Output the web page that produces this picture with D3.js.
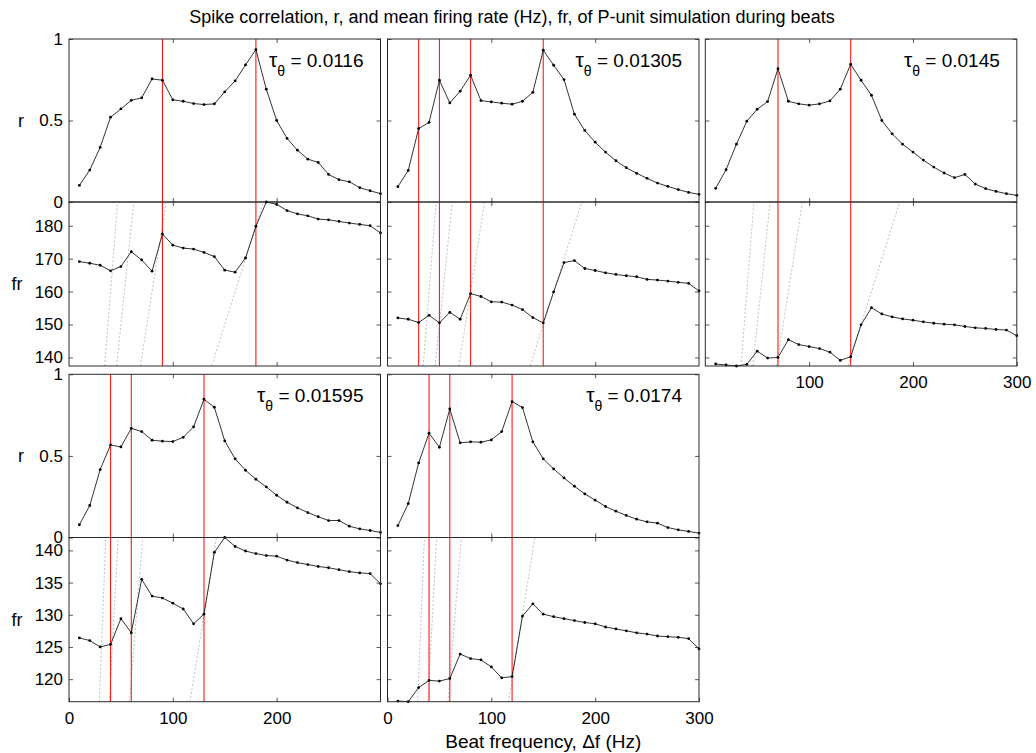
<!DOCTYPE html>
<html><head><meta charset="utf-8">
<script src="https://cdn.jsdelivr.net/npm/d3@7"></script>
<style>
body{margin:0;background:#fff}
text{font-family:"Liberation Sans",Arial,Helvetica,sans-serif}
</style>
</head><body>
<svg id="c" width="1036" height="753"></svg>
<script>
// ---------- data ----------
const freqs = [10,20,30,40,50,60,70,80,90,100,110,120,130,140,150,160,170,180,190,200,210,220,230,240,250,260,270,280,290,300];

const tauLabels = ["0.0116","0.01305","0.0145","0.01595","0.0174"];

const r_0116 = [0.102,0.196,0.335,0.520,0.571,0.624,0.639,0.755,0.747,0.627,0.618,0.604,0.598,0.602,0.676,0.743,0.841,0.935,0.692,0.500,0.390,0.318,0.263,0.243,0.169,0.137,0.124,0.088,0.069,0.051];
const fr_0116 = [169.1,168.6,168.0,166.3,167.6,172.1,169.6,166.2,177.5,174.1,173.2,172.9,171.9,170.6,166.5,165.9,170.2,179.8,187.2,186.5,184.6,183.6,183.0,182.0,181.8,181.3,180.8,180.4,180.0,177.8];
const red_0116 = [90,180];

const r_01305 = [0.094,0.194,0.451,0.488,0.747,0.608,0.680,0.778,0.622,0.614,0.606,0.600,0.618,0.673,0.931,0.839,0.751,0.539,0.439,0.367,0.306,0.253,0.210,0.176,0.145,0.116,0.096,0.076,0.059,0.047];
const fr_01305 = [152.0,151.6,150.6,152.8,150.5,153.7,151.6,159.4,158.5,156.9,156.8,155.9,154.5,152.1,150.5,159.9,168.8,169.4,167.0,166.4,165.7,165.2,164.8,164.5,163.7,163.5,163.2,162.8,162.5,160.2];
const red_01305 = [30,50,80,150];

const r_0145 = [0.084,0.198,0.355,0.496,0.569,0.616,0.818,0.618,0.602,0.594,0.602,0.620,0.692,0.845,0.747,0.655,0.500,0.418,0.355,0.306,0.257,0.214,0.178,0.149,0.169,0.110,0.082,0.065,0.051,0.041];
const fr_0145 = [138.0,137.7,137.4,137.9,141.9,139.8,140.0,145.4,143.9,143.3,142.7,141.6,139.1,140.2,149.9,155.1,153.2,152.3,151.7,151.3,150.8,150.4,150.1,149.9,149.4,149.0,148.8,148.5,148.3,146.6];
const red_0145 = [70,140];

const r_01595 = [0.078,0.196,0.416,0.567,0.555,0.669,0.649,0.596,0.590,0.588,0.614,0.678,0.847,0.798,0.592,0.482,0.412,0.357,0.310,0.259,0.216,0.182,0.153,0.127,0.104,0.104,0.069,0.053,0.043,0.031];
const fr_01595 = [126.4,126.0,125.0,125.4,129.4,127.2,135.5,132.9,132.6,131.8,130.9,128.6,130.1,139.7,142.0,140.6,139.9,139.5,139.2,139.1,138.5,138.1,137.8,137.5,137.3,137.0,136.7,136.5,136.4,134.8];
const red_01595 = [40,60,130];

const r_0174 = [0.073,0.208,0.457,0.639,0.553,0.788,0.580,0.586,0.584,0.598,0.649,0.833,0.796,0.586,0.482,0.420,0.365,0.314,0.267,0.229,0.190,0.161,0.135,0.112,0.096,0.088,0.061,0.047,0.037,0.027];
const fr_0174 = [116.6,116.5,118.7,119.8,119.7,120.1,123.9,123.2,123.0,121.9,120.2,120.4,129.8,131.7,130.1,129.7,129.4,129.1,128.8,128.6,128.1,127.8,127.5,127.2,127.0,126.7,126.6,126.5,126.3,124.7];
const red_0174 = [40,60,120];

const harmonics = [1,2,3,4];           // fr = n * Δf guide lines
const xInnerTicks = [100,200];
const rTicks = [0,0.5,1];
const frTicksRow1 = [140,150,160,170,180];
const frTicksRow2 = [120,125,130,135,140];
const xLabelsCol3Top = [100,200,300];
const xLabelsBottomCol1 = [0,100,200];
const xLabelsBottomCol2 = [0,100,200,300];

const titleText = "Spike correlation, r, and mean firing rate (Hz), fr, of P-unit simulation during beats";
const xAxisTitle = "Beat frequency, \u0394f (Hz)";

// ---------- layout ----------
const svg = d3.select("#c");
const PW = 311.5;
const colX = [69, 387.5, 705.3];
const rows = [
  {rTop:39, mid:202, frBot:366, frTicks:frTicksRow1},
  {rTop:374.3, mid:537.5, frBot:701.7, frTicks:frTicksRow2}
];
const panels = [
  {tau:tauLabels[0], row:0, col:0, r:r_0116,  fr:fr_0116,  red:red_0116,  xl:null},
  {tau:tauLabels[1], row:0, col:1, r:r_01305, fr:fr_01305, red:red_01305, xl:null},
  {tau:tauLabels[2], row:0, col:2, r:r_0145,  fr:fr_0145,  red:red_0145,  xl:xLabelsCol3Top},
  {tau:tauLabels[3], row:1, col:0, r:r_01595, fr:fr_01595, red:red_01595, xl:xLabelsBottomCol1},
  {tau:tauLabels[4], row:1, col:1, r:r_0174,  fr:fr_0174,  red:red_0174,  xl:xLabelsBottomCol2}
];
rows.forEach((rw,i)=>{
  const all = panels.filter(p=>p.row===i).flatMap(p=>p.fr);
  rw.frDomain = d3.extent(all);
});

const TICK = 4, FS = 17;
const boxColor = "#2b2b2b";

function styleAxis(g){
  g.select(".domain").remove();
  g.selectAll(".tick line").attr("stroke", boxColor).attr("stroke-width", 0.8);
  g.selectAll(".tick text").attr("font-size", FS).attr("fill","#000")
    .attr("font-family",'"Liberation Sans",Arial,sans-serif');
}

let clipId = 0;
function drawSub(p, kind){
  const rw = rows[p.row];
  const x0 = colX[p.col];
  const x = d3.scaleLinear().domain([0,300]).range([x0, x0+PW]);
  let y, yTicks, vals, top, bot;
  if(kind==="r"){
    top = rw.rTop; bot = rw.mid;
    y = d3.scaleLinear().domain([0,1]).range([bot, top]);
    yTicks = rTicks; vals = p.r;
  } else {
    top = rw.mid; bot = rw.frBot;
    y = d3.scaleLinear().domain(rw.frDomain).range([bot, top]);
    yTicks = rw.frTicks; vals = p.fr;
  }
  const g = svg.append("g");
  const id = "clip"+(clipId++);
  g.append("clipPath").attr("id", id).append("rect")
    .attr("x", x0).attr("y", top).attr("width", PW).attr("height", bot-top);

  if(kind==="fr"){
    const [d0,d1] = y.domain();
    g.append("g").attr("clip-path", `url(#${id})`)
      .selectAll("line").data(harmonics).join("line")
      .attr("x1", n=>x(d0/n)).attr("y1", y(d0))
      .attr("x2", n=>x(d1/n)).attr("y2", y(d1))
      .attr("stroke", "#b0b0b0").attr("stroke-width", 0.8)
      .attr("stroke-dasharray", "2,2");
  }
  g.selectAll("line.red").data(p.red).join("line").attr("class","red")
    .attr("x1", d=>x(d)).attr("x2", d=>x(d))
    .attr("y1", top).attr("y2", bot)
    .attr("stroke", "#ff1a1a").attr("stroke-width", 1.1);

  const pts = freqs.map((f,i)=>[f, vals[i]]);
  g.append("path").datum(pts)
    .attr("d", d3.line().x(d=>x(d[0])).y(d=>y(d[1])))
    .attr("fill","none").attr("stroke","#000").attr("stroke-width",0.8);
  g.selectAll("circle").data(pts).join("circle")
    .attr("cx", d=>x(d[0])).attr("cy", d=>y(d[1])).attr("r", 1.4).attr("fill","#000");

  const showXLabels = (kind==="fr" && p.xl);
  const axB = d3.axisBottom(x).tickValues(showXLabels ? p.xl : xInnerTicks)
     .tickSizeInner(-TICK).tickSizeOuter(0).tickPadding(10)
     .tickFormat(showXLabels ? (d=>String(d)) : (()=>""));
  g.append("g").attr("transform",`translate(0,${bot})`).call(axB).call(styleAxis);
  const axT = d3.axisTop(x).tickValues(xInnerTicks).tickSizeInner(-TICK).tickSizeOuter(0).tickFormat(()=>"");
  g.append("g").attr("transform",`translate(0,${top})`).call(axT).call(styleAxis);
  const axL = d3.axisLeft(y).tickValues(yTicks).tickSizeInner(-TICK).tickSizeOuter(0).tickPadding(6)
     .tickFormat(p.col===0 ? (d=>String(d)) : (()=>""));
  g.append("g").attr("transform",`translate(${x0},0)`).call(axL).call(styleAxis);
  const axR = d3.axisRight(y).tickValues(yTicks).tickSizeInner(-TICK).tickSizeOuter(0).tickFormat(()=>"");
  g.append("g").attr("transform",`translate(${x0+PW},0)`).call(axR).call(styleAxis);

  g.append("rect").attr("x", x0).attr("y", top).attr("width", PW).attr("height", bot-top)
    .attr("fill","none").attr("stroke", boxColor).attr("stroke-width", 1);

  if(kind==="r"){
    const t = g.append("text").attr("x", x0+PW-17).attr("y", top+27.7)
      .attr("text-anchor","end").attr("font-size", 19).attr("fill","#000");
    t.append("tspan").attr("font-size", 21).text("\u03C4");
    t.append("tspan").attr("font-size", 14).attr("dy", 9).text("\u03B8");
    t.append("tspan").attr("dy", -9).text(" = " + p.tau);
  }
  if(p.col===0){
    const cy = (top+bot)/2;
    svg.append("text").attr("x", kind==="r"?21:17).attr("y", cy).attr("dy","0.35em")
      .attr("text-anchor","middle").attr("font-size", 18).text(kind==="r"?"r":"fr");
  }
}

panels.forEach(p=>{ drawSub(p,"r"); drawSub(p,"fr"); });

svg.append("text").attr("x", 512).attr("y", 23).attr("text-anchor","middle")
  .attr("font-size", 18).text(titleText);
svg.append("text").attr("x", colX[1]+PW/2).attr("y", 748).attr("text-anchor","middle")
  .attr("font-size", 19).text(xAxisTitle);
</script>
</body></html>
